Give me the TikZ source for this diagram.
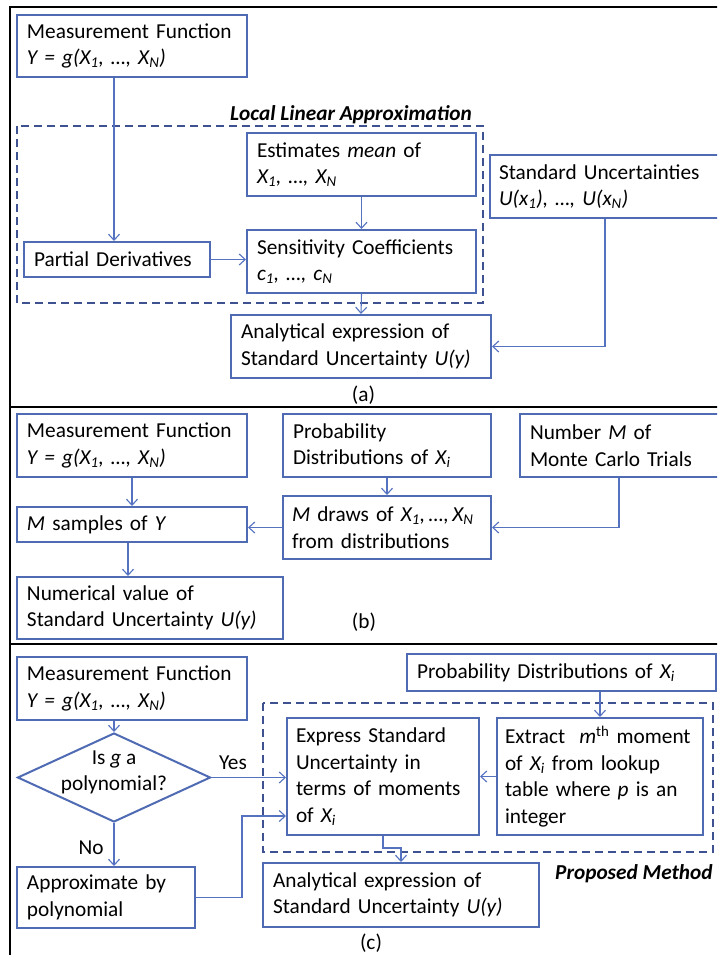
\documentclass[tikz,border=0pt]{standalone}
\usepackage{fontspec}
\setmainfont{Carlito}
\usetikzlibrary{arrows.meta,shapes.geometric,calc}
\definecolor{boxc}{HTML}{4F6BB3}
\definecolor{arrc}{HTML}{5472C0}
\definecolor{dashc}{HTML}{3E5291}
\newcommand\fs{\fontsize{21.3}{26.5}\selectfont}
\newcommand\sub[1]{\textsubscript{#1}}
\tikzset{
  bx/.style={draw=boxc, line width=2pt, rectangle, align=left, inner xsep=10pt, inner ysep=0pt, font=\fs},
  arr/.style={draw=arrc, line width=1.1pt, -{Straight Barb[length=6pt,width=11pt]}},
  dsh/.style={draw=dashc, line width=2pt, dash pattern=on 8pt off 5pt},
  lbl/.style={font=\fs, inner sep=0pt},
  frame/.style={draw=black, line width=2.2pt},
  sep/.style={draw=black, line width=1.3pt},
}
\begin{document}
\begin{tikzpicture}[x=1pt,y=-1pt]
\useasboundingbox (0,0) rectangle (717,955);
\clip (0,0) rectangle (717,955);
\fill[white] (0,0) rectangle (717,955);
% frame
\draw[frame] (10,975) -- (10,7) -- (730,7);
\draw[sep] (10,407) -- (730,407);
\draw[sep] (10,644) -- (730,644);

% ---------- (a)
\draw[dsh] (17,126) rectangle (483,303);
\node[lbl, anchor=base east, font=\fs\bfseries\itshape] (lla) at (472,121) {Local Linear Approximation};
\node[bx, minimum width=230pt, text width=210pt, minimum height=62pt] (mfa) at (132,46) {Measurement Function\\\textit{Y = g(X\sub{1}, …, X\sub{N})}};
\node[bx, minimum width=186pt, text width=166pt, minimum height=35pt] (pd) at (117,259.5) {Partial Derivatives};
\node[bx, minimum width=229pt, text width=209pt, minimum height=63pt] (est) at (361.5,164.5) {Estimates \textit{mean} of\\\textit{X\sub{1}, …, X\sub{N}}};
\node[bx, minimum width=229pt, text width=209pt, minimum height=63pt] (sens) at (361.5,261.5) {Sensitivity Coefficients\\\textit{c\sub{1}, …, c\sub{N}}};
\node[bx, minimum width=250pt, text width=232pt, minimum height=63pt, inner xsep=9pt] (stdu) at (615,186.5) {Standard Uncertainties\\\textit{U(x\sub{1}), …, U(x\sub{N})}};
\node[bx, minimum width=260pt, text width=240pt, minimum height=63pt] (ana) at (361,346.5) {Analytical expression of\\Standard Uncertainty \textit{U(y)}};
\node[lbl] (la) at (363.5,395) {(a)};

\draw[arr] ([xshift=-18pt]mfa.south) -- ([xshift=-18pt]mfa.south |- pd.north);
\draw[arr] (pd.east) -- (pd.east -| sens.west);
\draw[arr] (est.south) -- (sens.north);
\draw[arr] (sens.south) -- (ana.north);
\draw[arr] ([xshift=-10pt]stdu.south) |- (ana.east);

% ---------- (b)
\node[bx, minimum width=230pt, text width=210pt, minimum height=63pt] (mfb) at (132,445.5) {Measurement Function\\\textit{Y = g(X\sub{1}, …, X\sub{N})}};
\node[bx, minimum width=208pt, text width=188pt, minimum height=63pt] (prob) at (387,445.5) {Probability\\Distributions of \textit{X\sub{i}}};
\node[bx, minimum width=220pt, text width=200pt, minimum height=63pt] (num) at (630,445.5) {Number \textit{M} of\\Monte Carlo Trials};
\node[bx, minimum width=230pt, text width=210pt, minimum height=35pt] (msam) at (132,524.5) {\textit{M} samples of \textit{Y}};
\node[bx, minimum width=208pt, text width=190pt, minimum height=63pt, inner xsep=9pt] (mdraw) at (387,527.5) {\mbox{\textit{M} draws of \textit{X\sub{1},\,…,\,X\sub{N}}}\\from distributions};
\node[bx, minimum width=266pt, text width=246pt, minimum height=62pt] (numv) at (150,608) {Numerical value of\\Standard Uncertainty \textit{U(y)}};
\node[lbl] (lb) at (364,622) {(b)};

\draw[arr] (mfb.south) -- (msam.north);
\draw[arr] ([xshift=-4pt]msam.south) -- ([xshift=-4pt]msam.south |- numv.north);
\draw[arr] (prob.south) -- (mdraw.north);
\draw[arr] ([xshift=-11pt]num.south) |- (mdraw.east);
\draw[arr] (mdraw.west) -- (mdraw.west -| msam.east);

% ---------- (c)
\draw[dsh] (263,703) rectangle (713,852);
\node[bx, minimum width=230pt, text width=210pt, minimum height=63pt] (mfc) at (132,688.5) {Measurement Function\\\textit{Y = g(X\sub{1}, …, X\sub{N})}};
\node[draw=boxc, line width=2pt, diamond, minimum width=193pt, minimum height=89pt, inner sep=0pt] (dec) at (114,777.5) {};
\node[lbl, align=center] (dect) at ([yshift=5pt]dec.center) {Is \textit{g} a\\polynomial?};
\node[bx, minimum width=178pt, text width=158pt, minimum height=61pt] (appr) at (106,897.5) {Approximate by\\polynomial};
\node[bx, minimum width=192pt, text width=174pt, minimum height=117pt, inner xsep=9pt] (expr) at (383,776.5) {Express Standard\\Uncertainty in\\\mbox{terms of moments}\\of \textit{X\sub{i}}};
\node[bx, minimum width=206pt, text width=190pt, minimum height=117pt, inner xsep=8pt] (extr) at (600,776.5) {\mbox{Extract~ \textit{m}\textsuperscript{th} moment}\\of \textit{X\sub{i}} from lookup\\table where \textit{p} is an\\integer};
\node[bx, minimum width=309pt, text width=289pt, minimum height=37pt] (probc) at (561.5,672.5) {Probability Distributions of \textit{X\sub{i}}};
\node[bx, minimum width=276pt, text width=256pt, minimum height=64pt] (anac) at (401,895) {Analytical expression of\\Standard Uncertainty \textit{U(y)}};
\node[lbl, anchor=base west, font=\fs\bfseries\itshape] (pm) at (555,879) {Proposed Method};
\node[lbl] (lc) at (371,943) {(c)};
\node[lbl] (yes) at (233,763) {Yes};
\node[lbl] (no) at (91,848) {No};

\draw[arr] ([xshift=-18pt]mfc.south) -- (dec.north);
\draw[arr] (dec.east) -- (dec.east -| expr.west);
\draw[arr] (dec.south) -- (dec.south |- appr.north);
\draw[arr] (appr.east) -- ++(46,0) |- ([yshift=-39.5pt]expr.west);
\draw[arr] (probc.south -| extr.north) -- (extr.north);
\draw[arr] (extr.west) -- (expr.east);
\draw[arr] (expr.south) -- ++(0,12) -| (anac.north);
\end{tikzpicture}
\end{document}
